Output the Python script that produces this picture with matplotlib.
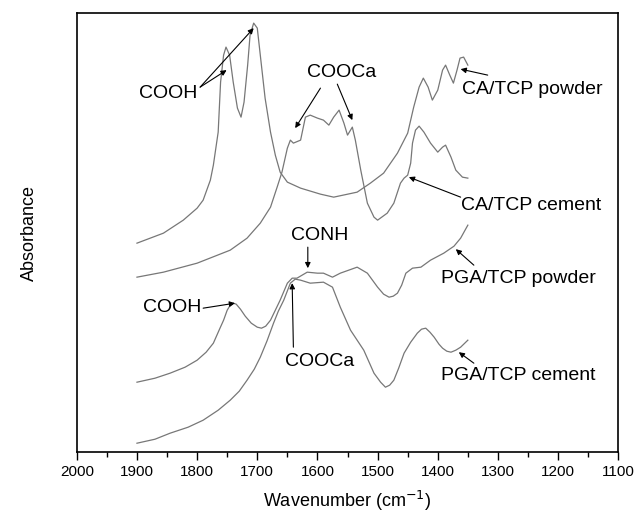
import matplotlib
matplotlib.use("Agg")
import matplotlib.pyplot as plt

plt.rcParams['font.family'] = ['Liberation Sans', 'DejaVu Sans']

# Spectra (wavenumber, absorbance in arbitrary units)
ca_powder_w = [1900, 1856, 1823, 1800, 1790, 1778, 1773, 1765, 1761, 1756, 1752, 1746,
               1740, 1733, 1727, 1722, 1716, 1712, 1706, 1700, 1695, 1687, 1678, 1670,
               1662, 1650, 1628, 1617, 1595, 1573, 1534, 1512, 1490, 1467, 1450, 1440,
               1431, 1424, 1416, 1409, 1400, 1392, 1387, 1380, 1374, 1368, 1363, 1357,
               1350]
ca_powder_a = [209, 219, 232, 244, 252, 272, 287, 320, 370, 397, 405, 397,
               370, 344, 335, 350, 387, 417, 429, 424, 397, 354, 320, 297,
               280, 270, 264, 262, 258, 255, 260, 269, 279, 299, 319, 345,
               365, 374, 365, 352, 362, 382, 387, 377, 369, 382, 394, 395,
               387]

ca_cement_w = [1900, 1856, 1800, 1745, 1717, 1695, 1678, 1667, 1659, 1650, 1645, 1640,
               1628, 1620, 1612, 1600, 1590, 1581, 1573, 1564, 1556, 1550, 1542, 1537,
               1528, 1517, 1506, 1500, 1484, 1473, 1462, 1456, 1450, 1445, 1442, 1437,
               1431, 1423, 1412, 1400, 1392, 1387, 1378, 1370, 1359, 1350]
ca_cement_a = [175, 180, 189, 202, 214, 229, 245, 265, 280, 304, 312, 309,
               312, 335, 337, 334, 332, 327, 335, 342, 329, 317, 325, 312,
               282, 249, 235, 232, 239, 249, 269, 274, 277, 289, 309, 322,
               326, 320, 309, 300, 305, 307, 295, 282, 275, 274]

pga_powder_w = [1900, 1870, 1845, 1820, 1800, 1785, 1773, 1762, 1756, 1750, 1745, 1740,
                1735, 1728, 1720, 1710, 1700, 1693, 1686, 1678, 1670, 1662, 1650, 1642,
                1634, 1617, 1600, 1590, 1575, 1562, 1534, 1517, 1500, 1490, 1481, 1474,
                1467, 1460, 1453, 1442, 1428, 1412, 1390, 1373, 1362, 1350]
pga_powder_a = [70, 74, 79, 85, 92, 100, 109, 124, 132, 142, 147, 149,
                148, 143, 136, 129, 125, 124, 126, 132, 142, 152, 169, 174,
                174, 180, 179, 179, 175, 179, 185, 179, 165, 158, 155, 156,
                159, 167, 179, 184, 185, 192, 199, 206, 214, 227]

pga_cement_w = [1900, 1870, 1845, 1815, 1790, 1765, 1745, 1730, 1717, 1705, 1695, 1684,
                1673, 1665, 1656, 1645, 1637, 1628, 1612, 1590, 1575, 1562, 1545, 1523,
                1506, 1495, 1487, 1480, 1473, 1465, 1456, 1445, 1434, 1427, 1420, 1413,
                1406, 1398, 1392, 1385, 1378, 1370, 1362, 1350]
pga_cement_a = [9, 13, 19, 25, 32, 42, 52, 61, 72, 83, 95, 111,
                129, 141, 152, 169, 173, 172, 169, 170, 165, 145, 122, 102,
                79, 70, 65, 67, 72, 84, 99, 110, 119, 123, 124, 120,
                115, 108, 104, 101, 100, 102, 105, 112]

# labels: (text, x, y, horizontal alignment)
labels = [
    ("COOH", 1848, 359, 'center'),
    ("COOCa", 1560, 380, 'center'),
    ("CA/TCP powder", 1359, 363, 'left'),
    ("CA/TCP cement", 1361, 247, 'left'),
    ("CONH", 1597, 217, 'center'),
    ("COOH", 1842, 145, 'center'),
    ("COOCa", 1596, 91, 'center'),
    ("PGA/TCP powder", 1394, 174, 'left'),
    ("PGA/TCP cement", 1394, 77, 'left'),
]

# arrows: (tail x, tail y, head x, head y)
arrows = [
    (1795, 365, 1751, 382),
    (1795, 365, 1706, 424),
    (1595, 364, 1637, 324),
    (1567, 368, 1542, 332),
    (1317, 377, 1362, 383),
    (1362, 255, 1448, 275),
    (1616, 205, 1616, 184),
    (1790, 144, 1737, 149),
    (1640, 105, 1642, 169),
    (1340, 187, 1370, 203),
    (1340, 89, 1365, 100),
]

fig = plt.figure(figsize=(6.4, 5.24), dpi=100)
ax = fig.add_axes([0.120, 0.137, 0.846, 0.838])

line_color = '#777777'
for w, a in [(ca_powder_w, ca_powder_a), (ca_cement_w, ca_cement_a),
             (pga_powder_w, pga_powder_a), (pga_cement_w, pga_cement_a)]:
    ax.plot(w, a, color=line_color, lw=0.9)

for text, x, y, ha in labels:
    ax.text(x, y, text, fontsize=14, ha=ha, va='center')

for x0, y0, x1, y1 in arrows:
    ax.annotate('', xy=(x1, y1), xytext=(x0, y0),
                arrowprops=dict(arrowstyle='-|>', color='black', lw=0.8,
                                mutation_scale=8, shrinkA=0, shrinkB=0))

ax.set_xlim(2000, 1100)
ax.set_ylim(0, 439)
ax.set_yticks([])
ax.set_xticks(range(2000, 1099, -100))
ax.set_xticks(range(1950, 1100, -100), minor=True)
ax.tick_params(axis='x', which='major', direction='out', length=6, width=1, labelsize=11)
ax.tick_params(axis='x', which='minor', direction='out', length=3.5, width=1)
for s in ax.spines.values():
    s.set_linewidth(1.2)

ax.set_xlabel("Wavenumber (cm$^{-1}$)", fontsize=13, labelpad=7)
ax.set_ylabel("Absorbance", fontsize=13, labelpad=28)

fig.savefig("out.png", dpi=100)
